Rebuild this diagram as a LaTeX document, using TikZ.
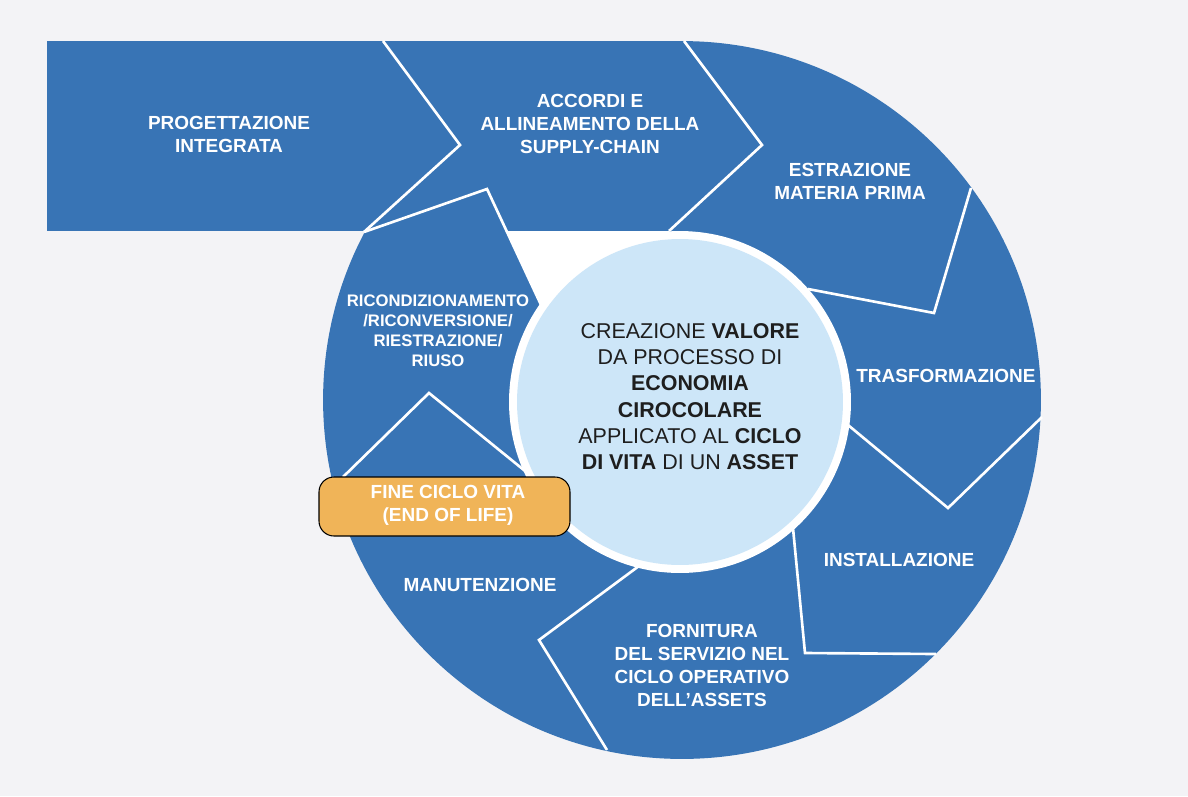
\documentclass[tikz,border=0pt]{standalone}
\usepackage{fontspec}
\setmainfont{Liberation Sans}
\definecolor{bg}{HTML}{F3F3F6}
\definecolor{segblue}{HTML}{3874B5}
\definecolor{lightblue}{HTML}{CDE6F8}
\definecolor{orangebox}{HTML}{F0B458}
\definecolor{darktext}{HTML}{1E1E1E}
\begin{document}
\begin{tikzpicture}[x=0.02cm,y=-0.02cm,
  sep/.style={draw=white,line width=1.5pt,line join=miter},
  lbl/.style={text=white,font=\fontsize{10.8}{13}\selectfont\bfseries,align=center,inner sep=0pt},
  lblsmall/.style={text=white,font=\fontsize{9.5}{11.4}\selectfont\bfseries,align=center,inner sep=0pt},
  centertext/.style={text=darktext,font=\fontsize{12.2}{15}\selectfont,align=center,inner sep=0pt},
  endbox/.style={draw=black,line width=0.6pt,fill=orangebox,rounded corners=0.3cm}]
\useasboundingbox (0,0) rectangle (1188,796);
\fill[bg] (0,0) rectangle (1188,796);
% blue body
\fill[segblue] (47,41) rectangle (682,231);
\fill[segblue] (682,400) circle[radius=7.18cm];
% white gap
\fill[white] (507,231) -- (669,231) -- (680,402) -- (542,307) -- cycle;
% centre circle
\fill[white] (680,402) circle[radius=3.42cm];
\fill[lightblue] (680,402) circle[radius=3.26cm];
% separators
\draw[sep] (383,41) -- (460,145) -- (364,232);
\draw[sep] (684,41) -- (762,145) -- (669,231);
\draw[sep] (971,188) -- (934,313) -- (808,289);
\draw[sep] (1042,417) -- (948,508) -- (848,425);
\draw[sep] (793,528) -- (805,653) -- (936,654);
\draw[sep] (643,563) -- (539,640) -- (607,750);
\draw[sep] (343,477) -- (429,393) -- (530,475);
\draw[sep] (364,232) -- (487,189) -- (542,307);
% end of life box
\draw[endbox] (319,477) rectangle (570,536);
% labels
\node[lbl] (prog) at (229,134.5) {PROGETTAZIONE\\INTEGRATA};
\node[lbl] (accordi) at (590,124) {ACCORDI E\\ALLINEAMENTO DELLA\\SUPPLY-CHAIN};
\node[lbl] (estr) at (850,181.5) {ESTRAZIONE\\MATERIA PRIMA};
\node[lbl] (trasf) at (946,376) {TRASFORMAZIONE};
\node[lbl] (inst) at (899,560) {INSTALLAZIONE};
\node[lbl] (forn) at (702,665.5) {FORNITURA\\DEL SERVIZIO NEL\\CICLO OPERATIVO\\DELL’ASSETS};
\node[lbl] (manut) at (480,585) {MANUTENZIONE};
\node[lblsmall] (ricond) at (438,330.5) {RICONDIZIONAMENTO\\/RICONVERSIONE/\\RIESTRAZIONE/\\RIUSO};
\node[lbl] (fine) at (448,505.5) {FINE CICLO VITA\\(END OF LIFE)};
\node[centertext] (centro) at (690,396.5) {CREAZIONE \textbf{VALORE}\\DA PROCESSO DI\\\textbf{ECONOMIA}\\\textbf{CIROCOLARE}\\APPLICATO AL \textbf{CICLO}\\\textbf{DI VITA} DI UN \textbf{ASSET}};
\end{tikzpicture}
\end{document}
